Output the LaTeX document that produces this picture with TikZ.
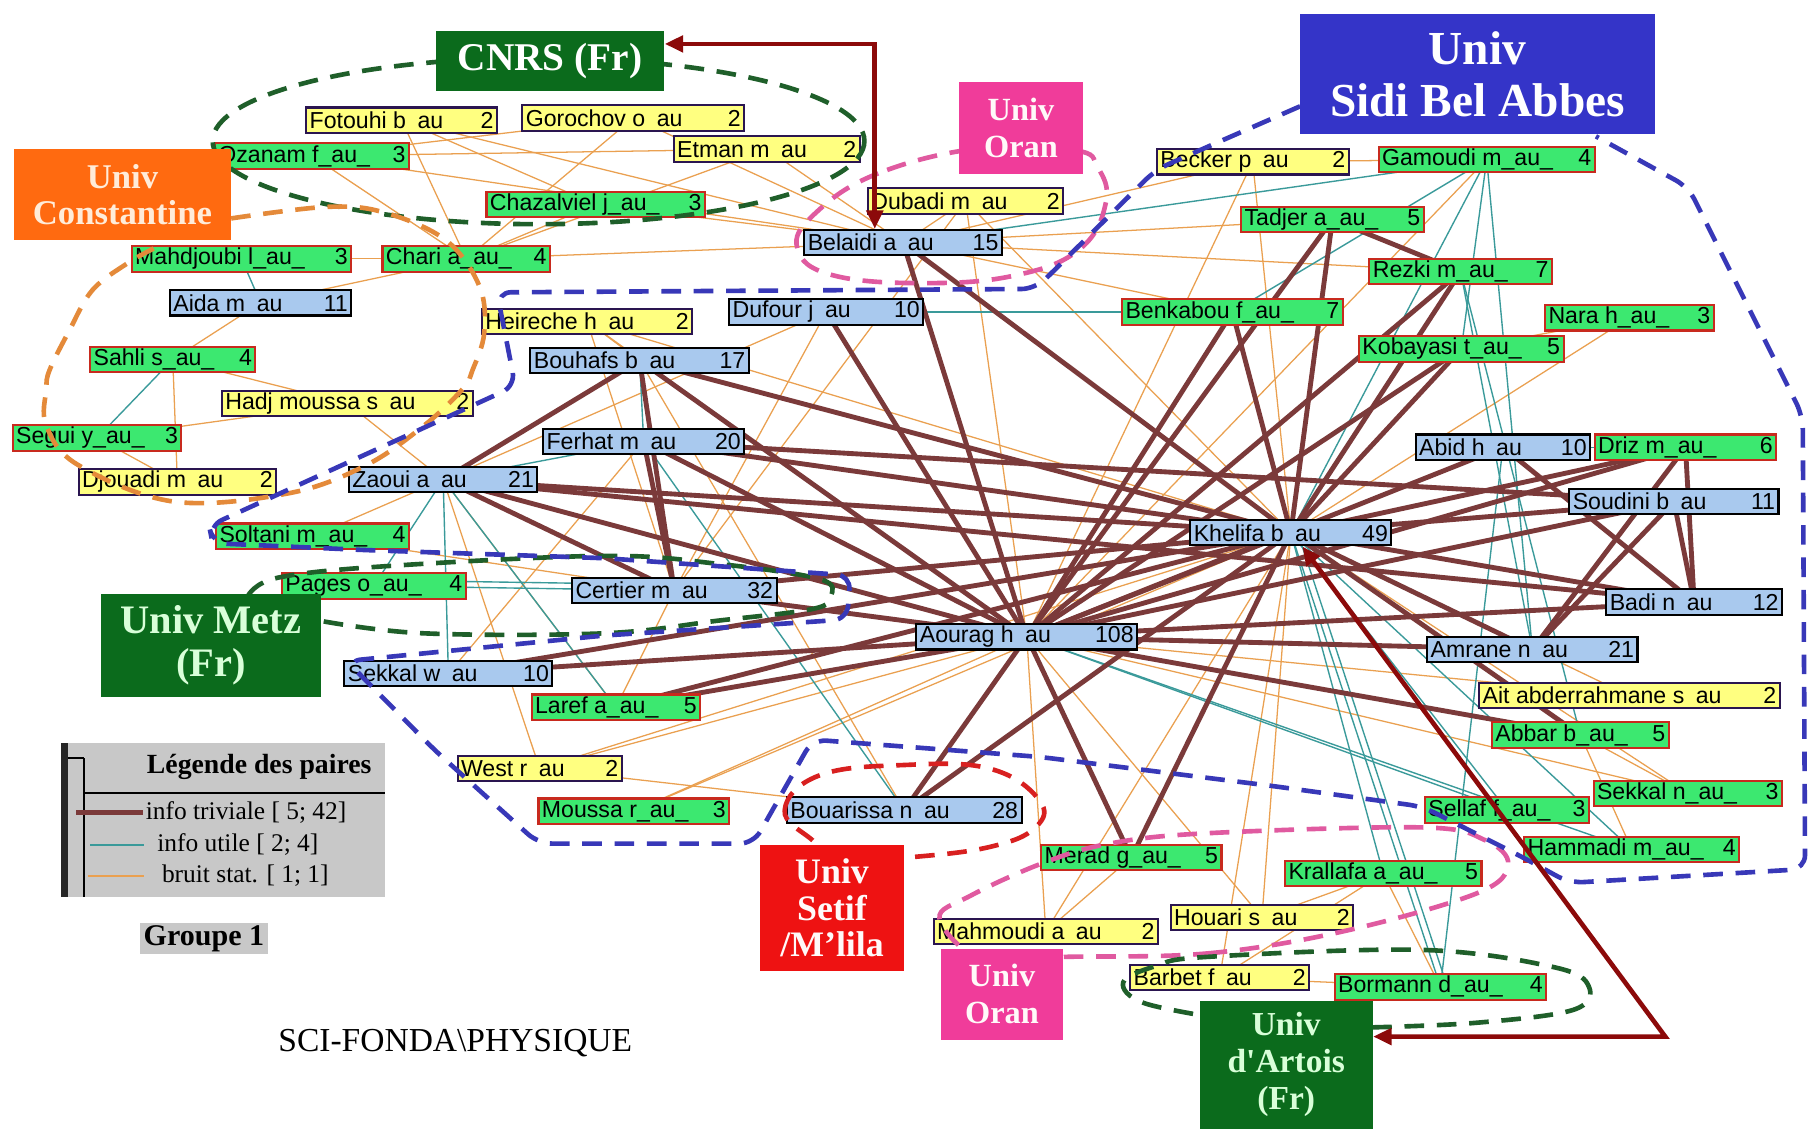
\documentclass[tikz,border=0pt]{standalone}
\usepackage{fontspec}
\setmainfont{Liberation Serif}
\newfontfamily\lblfont{Liberation Sans}
\usetikzlibrary{arrows.meta}
\pgfdeclarelayer{bg}
\pgfsetlayers{bg,main}
\definecolor{nyel}{HTML}{FFFF80}
\definecolor{nyelb}{HTML}{2A1550}
\definecolor{ngrn}{HTML}{3CE870}
\definecolor{ngrnb}{HTML}{C82A1E}
\definecolor{nblu}{HTML}{A9C9EE}
\definecolor{catgreen}{HTML}{0B6B1C}
\definecolor{sbablue}{HTML}{3434C8}
\definecolor{oranpink}{HTML}{F03C9A}
\definecolor{constor}{HTML}{FF6A10}
\definecolor{setifred}{HTML}{EE1212}
\definecolor{dgreen}{HTML}{1F5F2A}
\definecolor{dblue}{HTML}{3838B8}
\definecolor{dpink}{HTML}{E05AA0}
\definecolor{dred}{HTML}{D82020}
\definecolor{dorange}{HTML}{E48A3A}
\definecolor{trivc}{HTML}{7B3A3A}
\definecolor{utilc}{HTML}{3A9A9A}
\definecolor{noisec}{HTML}{EAA050}
\definecolor{arrred}{HTML}{8C0A0A}
\definecolor{leggray}{HTML}{C8C8C8}
\newcommand\lbx[3]{\hbox to #1pt{#2\hfill #3}}
\begin{document}
\begin{tikzpicture}[x=1pt,y=-1pt,
  lbl/.style={line width=1.8pt, inner xsep=3pt, inner ysep=0pt, minimum height=22pt, font=\lblfont\fontsize{20}{22}\selectfont},
  yel/.style={lbl, fill=nyel, draw=nyelb},
  grn/.style={lbl, fill=ngrn, draw=ngrnb},
  blu/.style={lbl, fill=nblu, draw=black},
  cat/.style={inner sep=0pt, align=center, font=\bfseries},
  triv/.style={draw=trivc, line width=4.2pt},
  util/.style={draw=utilc, line width=1.2pt},
  noise/.style={draw=noisec, line width=1.1pt},
  dashgrp/.style={line width=4pt, dash pattern=on 17pt off 11pt},
  redarr/.style={draw=arrred, line width=4pt, {Triangle[length=16pt,width=14pt]}-{Triangle[length=16pt,width=14pt]}}
]
\useasboundingbox (0,0) rectangle (1568,977);
\begin{pgfonlayer}{bg}
\fill[white] (0,0) rectangle (1568,977);
\end{pgfonlayer}

% yellow nodes
\node[yel] (fotouhi) at (347.5,104) {\lbx{159}{Fotouhi b\enspace au}{2}};
\node[yel] (gorochov) at (548,102) {\lbx{186}{Gorochov o\enspace au}{2}};
\node[yel] (etman) at (663.5,129) {\lbx{155}{Etman m\enspace au}{2}};
\node[yel] (dubadi) at (835.5,174) {\lbx{163}{Dubadi m\enspace au}{2}};
\node[yel] (becker) at (1084,140) {\lbx{160}{Becker p\enspace au}{2}};
\node[yel] (heireche) at (508,278) {\lbx{176}{Heireche h\enspace au}{2}};
\node[yel] (hadj) at (300.5,349) {\lbx{211}{Hadj moussa s\enspace au}{2}};
\node[yel] (djouadi) at (153.5,417) {\lbx{165}{Djouadi m\enspace au}{2}};
\node[yel] (west) at (467,665) {\lbx{136}{West r\enspace au}{2}};
\node[yel] (ait) at (1410,602) {\lbx{254}{Ait abderrahmane s\enspace au}{2}};
\node[yel] (mahmoudi) at (905,806) {\lbx{188}{Mahmoudi a\enspace au}{2}};
\node[yel] (houari) at (1092,794) {\lbx{152}{Houari s\enspace au}{2}};
\node[yel] (barbet) at (1055.5,846) {\lbx{149}{Barbet f\enspace au}{2}};

% green nodes
\node[grn] (ozanam) at (270,135) {\lbx{162}{Ozanam f\_au\_}{3}};
\node[grn] (chazal) at (515.5,177) {\lbx{183}{Chazalviel j\_au\_}{3}};
\node[grn] (mahdj) at (209,224) {\lbx{184}{Mahdjoubi l\_au\_}{3}};
\node[grn] (chari) at (403.5,224) {\lbx{139}{Chari a\_au\_}{4}};
\node[grn] (sahli) at (149.5,311) {\lbx{137}{Sahli s\_au\_}{4}};
\node[grn] (segui) at (84,379) {\lbx{140}{Segui y\_au\_}{3}};
\node[grn] (soltani) at (270.5,464) {\lbx{161}{Soltani m\_au\_}{4}};
\node[grn] (pages) at (323.5,507) {\lbx{153}{Pages o\_au\_}{4}};
\node[grn] (laref) at (533,612) {\lbx{140}{Laref a\_au\_}{5}};
\node[grn] (moussa) at (548.5,702) {\lbx{159}{Moussa r\_au\_}{3}};
\node[grn] (gamoudi) at (1286.5,138) {\lbx{181}{Gamoudi m\_au\_}{4}};
\node[grn] (tadjer) at (1153,190) {\lbx{152}{Tadjer a\_au\_}{5}};
\node[grn] (rezki) at (1264,235) {\lbx{152}{Rezki m\_au\_}{7}};
\node[grn] (benkabou) at (1066.5,270) {\lbx{185}{Benkabou f\_au\_}{7}};
\node[grn] (nara) at (1410,275) {\lbx{140}{Nara h\_au\_}{3}};
\node[grn] (kobayasi) at (1264.5,302) {\lbx{171}{Kobayasi t\_au\_}{5}};
\node[grn] (driz) at (1458.5,387) {\lbx{151}{Driz m\_au\_}{6}};
\node[grn] (abbar) at (1367.5,636) {\lbx{147}{Abbar b\_au\_}{5}};
\node[grn] (sellaf) at (1304,701) {\lbx{136}{Sellaf f\_au\_}{3}};
\node[grn] (sekkaln) at (1460.5,686.5) {\lbx{157}{Sekkal n\_au\_}{3}};
\node[grn] (hammadi) at (1412,735) {\lbx{180}{Hammadi m\_au\_}{4}};
\node[grn] (merad) at (979,742) {\lbx{150}{Merad g\_au\_}{5}};
\node[grn] (krallafa) at (1197,756) {\lbx{164}{Krallafa a\_au\_}{5}};
\node[grn] (bormann) at (1246.5,854) {\lbx{177}{Bormann d\_au\_}{4}};

% blue nodes
\node[blu] (belaidi) at (781.5,210) {\lbx{165}{Belaidi a\enspace au}{15}};
\node[blu] (aida) at (225.5,262) {\lbx{151}{Aida m\enspace au}{11}};
\node[blu] (dufour) at (715,270) {\lbx{162}{Dufour j\enspace au}{10}};
\node[blu] (bouhafs) at (553.5,312) {\lbx{183}{Bouhafs b\enspace au}{17}};
\node[blu] (ferhat) at (557,382) {\lbx{168}{Ferhat m\enspace au}{20}};
\node[blu] (zaoui) at (383.5,415) {\lbx{157}{Zaoui a\enspace au}{21}};
\node[blu] (certier) at (583.5,511) {\lbx{171}{Certier m\enspace au}{32}};
\node[blu] (sekkalw) at (388,583) {\lbx{174}{Sekkal w\enspace au}{10}};
\node[blu] (aourag) at (888.5,551) {\lbx{185}{Aourag h\enspace au}{108}};
\node[blu] (khelifa) at (1117,461) {\lbx{168}{Khelifa b\enspace au}{49}};
\node[blu] (abid) at (1300.5,387) {\lbx{145}{Abid h\enspace au}{10}};
\node[blu] (soudini) at (1448.5,434) {\lbx{175}{Soudini b\enspace au}{11}};
\node[blu] (badi) at (1466,521) {\lbx{146}{Badi n\enspace au}{12}};
\node[blu] (amrane) at (1326,562) {\lbx{176}{Amrane n\enspace au}{21}};
\node[blu] (bouarissa) at (782.5,701) {\lbx{197}{Bouarissa n\enspace au}{28}};

% edges behind nodes
\begin{pgfonlayer}{bg}
\foreach \a/\b in {fotouhi/belaidi, fotouhi/chari, fotouhi/chazal, gorochov/belaidi, gorochov/ozanam, gorochov/chari, etman/belaidi, etman/chari, etman/ozanam, ozanam/belaidi, ozanam/chari, chazal/belaidi, chazal/chari, chari/belaidi, mahdj/chari, chari/aida, aida/sahli, sahli/hadj, sahli/djouadi, segui/hadj, segui/djouadi, dubadi/belaidi, dubadi/aourag, dubadi/khelifa, becker/khelifa, becker/aourag, becker/belaidi, heireche/bouhafs, heireche/aourag, heireche/khelifa, hadj/zaoui, zaoui/soltani, west/aourag, west/bouarissa, west/khelifa, moussa/aourag, moussa/khelifa, mahmoudi/aourag, mahmoudi/khelifa, houari/khelifa, houari/krallafa, barbet/khelifa, barbet/bormann, barbet/krallafa, ait/khelifa, ait/aourag, sekkaln/khelifa, sekkaln/aourag, hammadi/abbar, nara/kobayasi, nara/khelifa, benkabou/belaidi, tadjer/belaidi, gamoudi/becker, laref/certier, laref/zaoui, soltani/certier, merad/mahmoudi, merad/khelifa, krallafa/bormann, sekkalw/ferhat, dufour/zaoui, dufour/certier, bouhafs/bouarissa, gamoudi/aourag, rezki/belaidi, tadjer/aourag, benkabou/aourag, dubadi/certier, heireche/certier, west/zaoui, houari/aourag, sekkaln/abbar}
  \draw[noise] (\a.center) -- (\b.center);
\foreach \a/\b in {gamoudi/khelifa, gamoudi/amrane, gamoudi/belaidi, gamoudi/kobayasi, gamoudi/benkabou, dufour/benkabou, mahdj/aida, sahli/segui, zaoui/sekkalw, zaoui/laref, zaoui/pages, pages/certier, certier/aourag, khelifa/bormann, khelifa/krallafa, khelifa/sellaf, khelifa/hammadi, aourag/sellaf, bouarissa/ferhat, rezki/amrane, tadjer/khelifa, abid/bormann, driz/amrane, bouhafs/ferhat, aourag/hammadi, benkabou/khelifa, rezki/abbar, abid/driz, bouarissa/aourag, zaoui/ferhat}
  \draw[util] (\a.center) -- (\b.center);
\draw[util] ([yshift=5pt]pages.center) -- ([yshift=5pt]certier.center);
\draw[util] ([xshift=6pt]khelifa.center) -- ([xshift=6pt]bormann.center);
\foreach \a/\b in {aourag/belaidi, aourag/dufour, aourag/bouhafs, aourag/ferhat, aourag/zaoui, aourag/certier, aourag/sekkalw, aourag/laref, aourag/bouarissa, aourag/merad, aourag/khelifa, aourag/tadjer, aourag/rezki, aourag/benkabou, aourag/kobayasi, aourag/driz, aourag/soudini, aourag/badi, aourag/amrane, aourag/abbar, aourag/abid, khelifa/bouhafs, khelifa/belaidi, khelifa/zaoui, khelifa/ferhat, khelifa/certier, khelifa/tadjer, khelifa/rezki, khelifa/benkabou, khelifa/kobayasi, khelifa/driz, khelifa/soudini, khelifa/badi, khelifa/amrane, khelifa/abbar, khelifa/merad, khelifa/bouarissa, khelifa/laref, khelifa/sekkalw, bouhafs/certier, ferhat/certier, bouhafs/zaoui, zaoui/certier, tadjer/rezki, driz/badi, soudini/badi, abid/badi, soudini/amrane, driz/amrane, zaoui/badi, ferhat/soudini}
  \draw[triv] (\a.center) -- (\b.center);
\end{pgfonlayer}

% dashed group outlines
\draw[dashgrp, dgreen] (466,122) ellipse [x radius=282, y radius=72];
\draw[dashgrp, dpink] plot[smooth cycle, tension=0.7] coordinates {(850,128) (760,150) (705,185) (690,215) (720,238) (800,245) (880,238) (935,215) (957,175) (950,145) (930,130)};
\draw[dashgrp, dpink] plot[smooth cycle, tension=0.6] coordinates {(922,828) (1045,825) (1162,806) (1278,773) (1305,748) (1285,727) (1231,716) (1045,721) (960,730) (902,747) (840,775) (813,795) (850,830)};
\draw[dashgrp, dred] plot[smooth cycle, tension=0.7] coordinates {(703,727) (679,701) (709,671) (782,662) (856,665) (899,692) (896,716) (856,733) (786,742) (730,745)};
\draw[dashgrp, dgreen] plot[smooth, tension=0.6] coordinates {(215,515) (240,500) (333,490) (523,481) (622,488) (709,501) (719,516) (703,527) (622,537) (523,548) (366,548) (276,537)};
\draw[dashgrp, dgreen] plot[smooth, tension=0.6] coordinates {(1060,882) (990,868) (972,850) (1000,836) (1045,828) (1231,822) (1345,837) (1375,854) (1361,874) (1278,885) (1188,889)};
\draw[dashgrp, dorange] plot[smooth, tension=0.6] coordinates {(200,189) (283,179) (333,184) (386,208) (415,248) (419,288) (409,320) (400,337) (366,369) (316,403) (249,427) (150,434) (67,402) (40,368) (40,337) (43,320) (60,286) (80,251) (110,228) (133,215)};
\draw[dashgrp, dblue, rounded corners=12pt] (1125,92) -- (1045,127) -- (1000,147) -- (896,250) -- (430,253) -- (446,334) -- (181,455) -- (184,470) -- (316,476) -- (523,483) -- (736,498) -- (733,536) -- (522,550) -- (300,572) -- (376,649) -- (466,730) -- (652,730) -- (703,640) -- (900,655) -- (1100,680) -- (1231,698) -- (1318,742) -- (1358,764) -- (1562,752) -- (1560,360) -- (1540,320) -- (1461,162) -- (1381,118);

% category boxes
\node[cat, fill=catgreen, text=white, minimum width=198pt, minimum height=52pt, font=\bfseries\fontsize{34}{36}\selectfont] (cnrs) at (476,53) {CNRS (Fr)};
\node[cat, fill=sbablue, text=white, minimum width=307pt, minimum height=104pt, font=\bfseries\fontsize{41}{45}\selectfont] (sba) at (1278.5,64) {Univ\\Sidi Bel Abbes};
\node[cat, fill=oranpink, text=white!90!pink, minimum width=107pt, minimum height=80pt, font=\bfseries\fontsize{28}{32}\selectfont] (oran1) at (883.5,111) {Univ\\Oran};
\node[cat, fill=constor, text=white!85!orange, minimum width=188pt, minimum height=79pt, font=\bfseries\fontsize{30}{31}\selectfont] (const) at (106,168.5) {Univ\\Constantine};
\node[cat, fill=catgreen, text=white!85!green, minimum width=191pt, minimum height=89pt, font=\bfseries\fontsize{35}{37}\selectfont] (metz) at (182.5,558.5) {Univ Metz\\(Fr)};
\node[cat, fill=setifred, text=white!90!pink, minimum width=124pt, minimum height=109pt, font=\bfseries\fontsize{31}{32}\selectfont] (setif) at (720,785.5) {Univ\\Setif\\/M'lila};
\node[cat, fill=oranpink, text=white!90!pink, minimum width=106pt, minimum height=79pt, font=\bfseries\fontsize{28}{32}\selectfont] (oran2) at (867,860.5) {Univ\\Oran};
\node[cat, fill=catgreen, text=white!85!green, minimum width=150pt, minimum height=111pt, font=\bfseries\fontsize{29}{32}\selectfont] (artois) at (1113,921.5) {Univ\\d\textquotesingle Artois\\(Fr)};

% red arrows
\coordinate (a1) at (757,38);
\draw[redarr] (cnrs.east |- a1) -- (a1) -- (a1 |- belaidi.north);
\coordinate (a2) at (1441,897);
\draw[redarr] (artois.east |- a2) -- (a2) -- ([xshift=10pt]khelifa.south);

% legend
\node[fill=leggray, minimum width=280pt, minimum height=133pt, inner sep=0pt] (legend) at (193,709.5) {};
\draw[line width=6pt, black!85] (56,643) -- (56,776);
\draw[line width=1.6pt] (73,656) -- (73,776);
\draw[line width=1.6pt] (59,656) -- (73,656);
\draw[line width=1.8pt] (73,686) -- (333,686);
\node[anchor=west, inner sep=0pt, font=\bfseries\fontsize{24}{26}\selectfont] (legt) at (127,664) {Légende des paires};
\draw[triv, line width=4pt] (66,703) -- (124,703);
\node[anchor=west, inner sep=0pt, font=\fontsize{22}{24}\selectfont] (leg1) at (126,703) {info triviale [ 5; 42]};
\draw[util, line width=2pt] (78,731) -- (125,731);
\node[anchor=west, inner sep=0pt, font=\fontsize{22}{24}\selectfont] (leg2) at (136,731) {info utile [ 2; 4]};
\draw[noise, line width=2.4pt] (76,758) -- (125,758);
\node[anchor=west, inner sep=0pt, font=\fontsize{22}{24}\selectfont] (leg3) at (140,758) {bruit stat. [ 1; 1]};

\node[fill=leggray, inner xsep=3pt, inner ysep=2pt, minimum height=26pt, font=\bfseries\fontsize{26}{28}\selectfont] (grp) at (176.5,812) {Groupe 1};
\node[font=\fontsize{29}{31}\selectfont] (sci) at (394,903) {SCI-FONDA\textbackslash PHYSIQUE};
\end{tikzpicture}
\end{document}
